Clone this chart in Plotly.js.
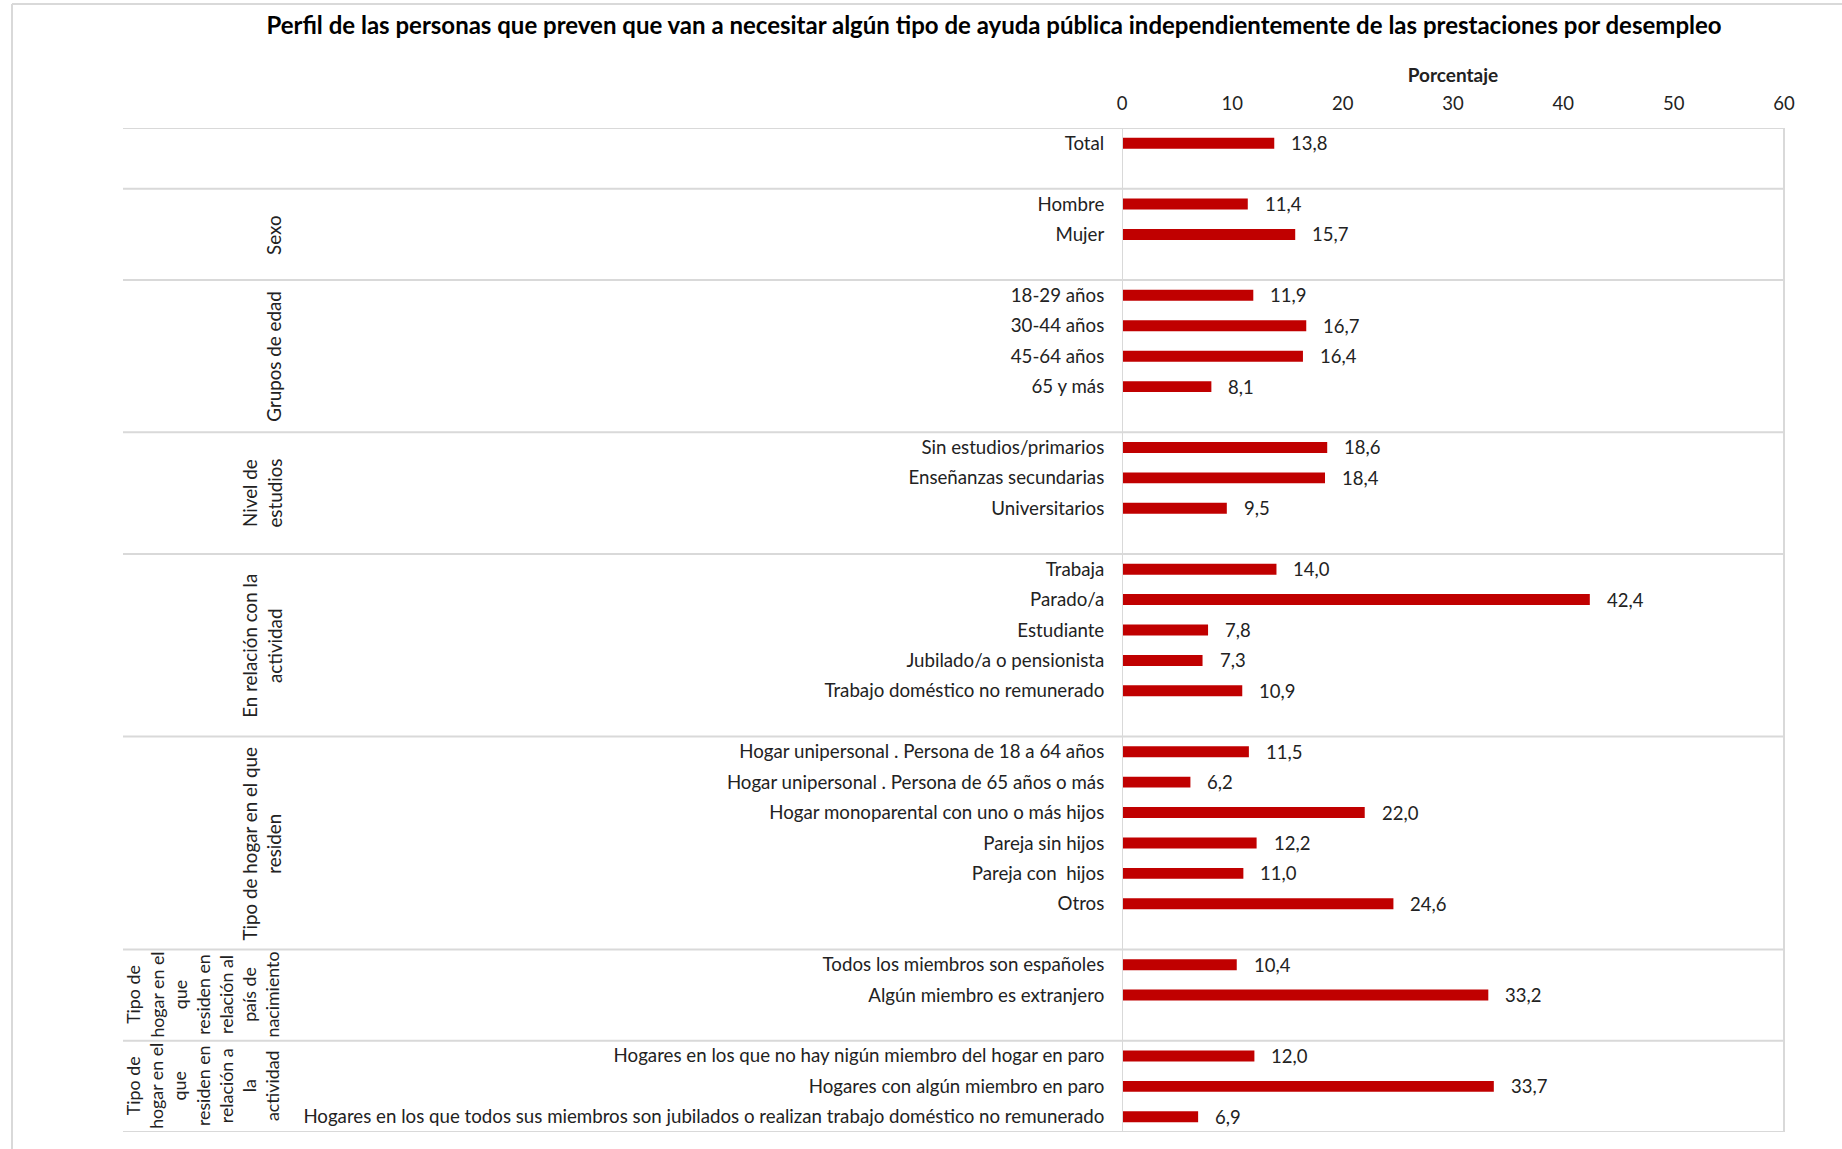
<!DOCTYPE html>
<html>
<head>
<meta charset="utf-8">
<script src="https://cdn.plot.ly/plotly-3.0.1.min.js"></script>
<style>
  html, body { margin: 0; padding: 0; background: #fff; }
  #chart { width: 1842px; height: 1149px; }
</style>
</head>
<body>
<div id="chart"></div>
<script>
// ---------------- DATA ----------------
const chartTitle = "Perfil de las personas que preven que van a necesitar algún tipo de ayuda pública independientemente de las prestaciones por desempleo";
const axisTitle = "Porcentaje";

const groupNames = [
  "",
  "Sexo",
  "Grupos de edad",
  "Nivel de<br>estudios",
  "En relación con la<br>actividad",
  "Tipo de hogar en el que<br>residen",
  "Tipo de<br>hogar en el<br>que<br>residen en<br>relación al<br>país de<br>nacimiento",
  "Tipo de<br>hogar en el<br>que<br>residen en<br>relación a<br>la<br>actividad"
];

const totalLabels = ["Total"];
const totalValues = [13.8];

const sexoLabels = ["Hombre", "Mujer"];
const sexoValues = [11.4, 15.7];

const edadLabels = ["18-29 años", "30-44 años", "45-64 años", "65 y más"];
const edadValues = [11.9, 16.7, 16.4, 8.1];

const estudiosLabels = ["Sin estudios/primarios", "Enseñanzas secundarias", "Universitarios"];
const estudiosValues = [18.6, 18.4, 9.5];

const actividadLabels = ["Trabaja", "Parado/a", "Estudiante", "Jubilado/a o pensionista", "Trabajo doméstico no remunerado"];
const actividadValues = [14.0, 42.4, 7.8, 7.3, 10.9];

const hogarLabels = ["Hogar unipersonal . Persona de 18 a 64 años", "Hogar unipersonal . Persona de 65 años o más", "Hogar monoparental con uno o más hijos", "Pareja sin hijos", "Pareja con  hijos", "Otros"];
const hogarValues = [11.5, 6.2, 22.0, 12.2, 11.0, 24.6];

const paisLabels = ["Todos los miembros son españoles", "Algún miembro es extranjero"];
const paisValues = [10.4, 33.2];

const hogarActLabels = ["Hogares en los que no hay nigún miembro del hogar en paro", "Hogares con algún miembro en paro", "Hogares en los que todos sus miembros son jubilados o realizan trabajo doméstico no remunerado"];
const hogarActValues = [12.0, 33.7, 6.9];

const groupLabels = [totalLabels, sexoLabels, edadLabels, estudiosLabels, actividadLabels, hogarLabels, paisLabels, hogarActLabels];
const groupValues = [totalValues, sexoValues, edadValues, estudiosValues, actividadValues, hogarValues, paisValues, hogarActValues];

const xTickVals = [0, 10, 20, 30, 40, 50, 60];

// ---------------- LAYOUT HELPERS ----------------
const W = 1842, H = 1149;
const mL = 1122, mR = 58, mT = 128, mB = 17;
const pw = W - mL - mR, ph = H - mT - mB;
const px2x = p => (p - mL) / pw;
const py2y = p => 1 - (p - mT) / ph;

const gridCol = "#D9D9D9";
const barCol = "#C00000";
const font = "Lato, 'Open Sans', sans-serif";

// rows: each group followed by an empty row, except the last
let rowY = [], rowText = [], rowVal = [];
let bounds = [-0.5];
let groupCenters = [];
let r = 0;
groupLabels.forEach((labs, gi) => {
  const start = r - 0.5;
  labs.forEach((l, i) => {
    rowY.push(r); rowText.push(l); rowVal.push(groupValues[gi][i]);
    r++;
  });
  if (gi < groupLabels.length - 1) r++;
  const end = r - 0.5;
  bounds.push(end);
  groupCenters.push((start + end) / 2);
});
const nRows = r;

const shapes = [];
bounds.forEach(b => {
  shapes.push({type: "line", xref: "paper", yref: "y", x0: px2x(123), x1: 1, y0: b, y1: b,
               line: {color: gridCol, width: 2}});
});
shapes.push({type: "line", xref: "x", yref: "y", x0: 0, x1: 0, y0: -0.5, y1: nRows - 0.5, line: {color: gridCol, width: 2}});
shapes.push({type: "line", xref: "paper", yref: "y", x0: 1, x1: 1, y0: -0.5, y1: nRows - 0.5, line: {color: gridCol, width: 2}});
shapes.push({type: "line", xref: "paper", yref: "paper", x0: px2x(12), x1: px2x(12), y0: py2y(4), y1: py2y(H + 10), line: {color: gridCol, width: 2}});
shapes.push({type: "line", xref: "paper", yref: "paper", x0: px2x(12), x1: px2x(W + 10), y0: py2y(4), y1: py2y(4), line: {color: gridCol, width: 2}});

const annotations = [];
rowY.forEach((y, i) => {
  annotations.push({
    x: rowVal[i], y: y, xref: "x", yref: "y",
    text: rowVal[i].toFixed(1).replace(".", ","),
    showarrow: false, xanchor: "left", yanchor: "middle", xshift: 15,
    font: {family: font, size: 18.5, color: "#222"}
  });
});
groupNames.forEach((g, gi) => {
  if (!g) return;
  const multi = g.split("<br>").length > 2;
  annotations.push({
    x: px2x(multi ? 285 : 287), y: groupCenters[gi], xref: "paper", yref: "y",
    text: g, showarrow: false, textangle: -90, xanchor: "right", yanchor: "middle",
    align: "center", font: {family: font, size: multi ? 17.8 : 18.8, color: "#222"}
  });
});

const data = [{
  type: "bar", orientation: "h",
  x: rowVal, y: rowY,
  width: 0.36,
  marker: {color: barCol},
  hoverinfo: "skip"
}];

const layout = {
  width: W, height: H,
  margin: {l: mL, r: mR, t: mT, b: mB, pad: 0},
  paper_bgcolor: "#fff", plot_bgcolor: "#fff",
  showlegend: false,
  separators: ",.",
  title: {
    text: "<b>" + chartTitle + "</b>",
    x: 994 / W, xref: "container", xanchor: "center",
    y: 1 - 26 / H, yref: "container", yanchor: "middle",
    font: {family: font, size: 24, color: "#000"}
  },
  xaxis: {
    side: "top", range: [0, 60], tickvals: xTickVals,
    showgrid: false, zeroline: false, showline: false,
    ticks: "outside", ticklen: 9.5, tickcolor: "rgba(0,0,0,0)",
    tickfont: {family: font, size: 18.5, color: "#222"},
    title: {text: "<b>" + axisTitle + "</b>", standoff: 4, font: {family: font, size: 19, color: "#222"}},
    fixedrange: true
  },
  yaxis: {
    range: [nRows - 0.5, -0.5],
    tickvals: rowY, ticktext: rowText,
    showgrid: false, zeroline: false, showline: false,
    ticks: "outside", ticklen: 13, tickcolor: "rgba(0,0,0,0)",
    tickfont: {family: font, size: 18.7, color: "#222"},
    fixedrange: true
  },
  shapes: shapes,
  annotations: annotations
};

Plotly.newPlot("chart", data, layout, {displayModeBar: false, staticPlot: true});
</script>
</body>
</html>
